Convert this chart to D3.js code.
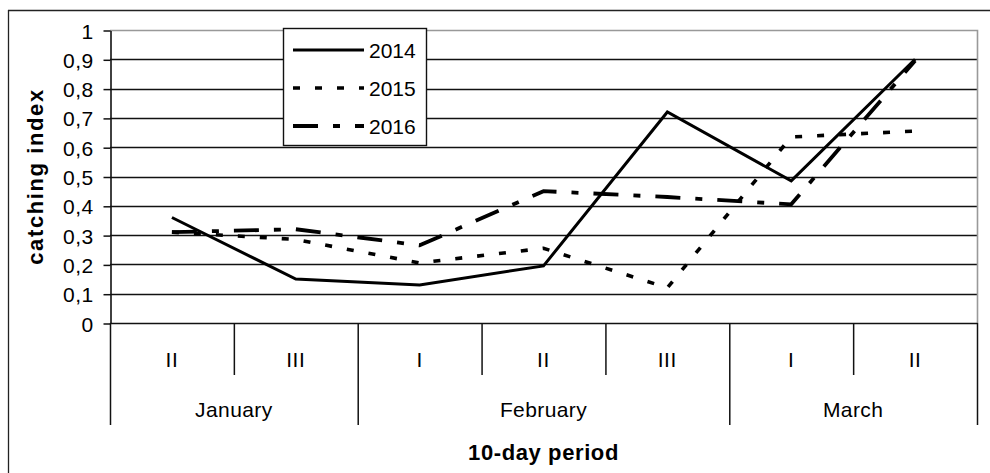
<!DOCTYPE html>
<html>
<head>
<meta charset="utf-8">
<script src="https://cdn.jsdelivr.net/npm/d3@7/dist/d3.min.js"></script>
<style>
  html, body { margin: 0; padding: 0; background: #fff; }
  svg { display: block; }
  text { font-family: "Liberation Sans", Arial, sans-serif; fill: #000; }
</style>
</head>
<body>
<svg id="chart" width="990" height="473"></svg>
<script>
// Ten-day periods along the x axis, grouped by month
const periods = ["II", "III", "I", "II", "III", "I", "II"];
const months = ["January", "February", "March"];
const monthSpans = [2, 3, 2];

// Catching index per ten-day period
const years = ["2014", "2015", "2016"];
const v2014 = [0.36, 0.15, 0.13, 0.195, 0.72, 0.485, 0.9];
const v2015 = [0.31, 0.285, 0.205, 0.255, 0.12, 0.635, 0.655];
const v2016 = [0.31, 0.32, 0.265, 0.45, 0.43, 0.405, 0.895];

const yTicks = [0, 0.1, 0.2, 0.3, 0.4, 0.5, 0.6, 0.7, 0.8, 0.9, 1];

const series = [
  { name: years[0], values: v2014, dash: null, width: 3 },
  { name: years[1], values: v2015, dash: "7,15", width: 3.6 },
  { name: years[2], values: v2016, dash: "25,15,7,15", width: 3.8 }
];

const svg = d3.select("#chart");
const plotLeft = 110, plotRight = 977, plotTop = 30, plotBottom = 323;

const x = d3.scaleBand().domain(d3.range(periods.length)).range([plotLeft, plotRight]).padding(0);
const y = d3.scaleLinear().domain([0, 1]).range([plotBottom, plotTop]);
const cx = i => x(i) + x.bandwidth() / 2;

// outer frame (top and left edges)
svg.append("line").attr("x1", 8).attr("x2", 990).attr("y1", 10.5).attr("y2", 10.5)
  .attr("stroke", "#222").attr("stroke-width", 1.3);
svg.append("line").attr("x1", 8.5).attr("x2", 8.5).attr("y1", 10).attr("y2", 473)
  .attr("stroke", "#222").attr("stroke-width", 1.3);

// horizontal gridlines
const grid = svg.append("g");
grid.selectAll("line").data(yTicks.filter(t => t > 0 && t < 1)).join("line")
  .attr("x1", plotLeft).attr("x2", plotRight)
  .attr("y1", d => Math.round(y(d)) + 0.5).attr("y2", d => Math.round(y(d)) + 0.5)
  .attr("stroke", "#111").attr("stroke-width", 1.5);

// plot border (top and right, grey)
svg.append("path")
  .attr("d", `M${plotLeft},${y(1) + 0.5}H${plotRight + 0.5}V${y(0)}`)
  .attr("fill", "none").attr("stroke", "#999").attr("stroke-width", 1.6);

// y axis
const yAxis = d3.axisLeft(y).tickValues(yTicks).tickSize(7).tickSizeOuter(0).tickPadding(10)
  .tickFormat(d => String(+d.toFixed(1)).replace(".", ","));
const gy = svg.append("g").attr("transform", `translate(${plotLeft + 0.5},0.5)`).call(yAxis);
gy.attr("font-family", null).attr("font-size", null);
gy.select(".domain").attr("stroke", "#111").attr("stroke-width", 1.6);
gy.selectAll(".tick line").attr("stroke", "#111").attr("stroke-width", 1.5);
gy.selectAll(".tick text").style("font-size", "21px").style("letter-spacing", "0.4px")
  .attr("dy", "0.36em");

// category axis baseline
svg.append("line").attr("x1", plotLeft).attr("x2", plotRight + 0.5)
  .attr("y1", y(0) + 0.5).attr("y2", y(0) + 0.5)
  .attr("stroke", "#111").attr("stroke-width", 1.6);

// separators between periods and between months
const monthEdges = [0];
monthSpans.forEach((s, i) => monthEdges.push(monthEdges[i] + s));
const edgeX = i => (i < periods.length ? x(i) : plotRight);
svg.append("g").selectAll("line").data(d3.range(periods.length + 1)).join("line")
  .attr("x1", i => edgeX(i) + 0.5)
  .attr("x2", i => edgeX(i) + 0.5)
  .attr("y1", y(0))
  .attr("y2", i => monthEdges.includes(i) ? 425 : 375)
  .attr("stroke", "#111").attr("stroke-width", 1.5);

// period labels
svg.append("g").selectAll("text").data(periods).join("text")
  .attr("x", (d, i) => cx(i)).attr("y", 359).attr("dy", "0.36em")
  .attr("text-anchor", "middle").style("font-size", "21px").style("letter-spacing", "0.6px")
  .text(d => d);

// month labels
svg.append("g").selectAll("text").data(months).join("text")
  .attr("x", (d, i) => (edgeX(monthEdges[i]) + edgeX(monthEdges[i + 1])) / 2)
  .attr("y", 409).attr("dy", "0.36em")
  .attr("text-anchor", "middle").style("font-size", "21px").style("letter-spacing", "0.4px")
  .text(d => d);

// axis titles
svg.append("text").attr("x", (plotLeft + plotRight) / 2).attr("y", 452).attr("dy", "0.36em")
  .attr("text-anchor", "middle").style("font-size", "22px").style("font-weight", "bold")
  .style("letter-spacing", "0.6px").text("10-day period");
svg.append("text").attr("transform", `translate(35,${(plotTop + plotBottom) / 2}) rotate(-90)`)
  .attr("dy", "0.36em").attr("text-anchor", "middle")
  .style("font-size", "22px").style("font-weight", "bold").style("letter-spacing", "1.6px")
  .text("catching index");

// series lines
const line = d3.line().x((d, i) => cx(i)).y(d => y(d));
svg.append("g").selectAll("path").data(series).join("path")
  .attr("d", d => line(d.values))
  .attr("fill", "none").attr("stroke", "#000")
  .attr("stroke-width", d => d.width)
  .attr("stroke-dasharray", d => d.dash)
  .attr("stroke-linejoin", "miter");

// legend
const lg = svg.append("g");
lg.append("rect").attr("x", 283.5).attr("y", 28.5).attr("width", 143).attr("height", 117)
  .attr("fill", "#fff").attr("stroke", "#111").attr("stroke-width", 1.4);
const rowY = d3.scalePoint().domain(years).range([50, 126]);
const items = lg.selectAll("g.item").data(series).join("g").attr("class", "item")
  .attr("transform", d => `translate(0,${rowY(d.name)})`);
items.append("line").attr("x1", 293).attr("x2", 364).attr("y1", 0).attr("y2", 0)
  .attr("stroke", "#000").attr("stroke-width", d => d.width)
  .attr("stroke-dasharray", d => d.dash);
items.append("text").attr("x", 369).attr("dy", "0.36em")
  .style("font-size", "21px").text(d => d.name);
</script>
</body>
</html>
